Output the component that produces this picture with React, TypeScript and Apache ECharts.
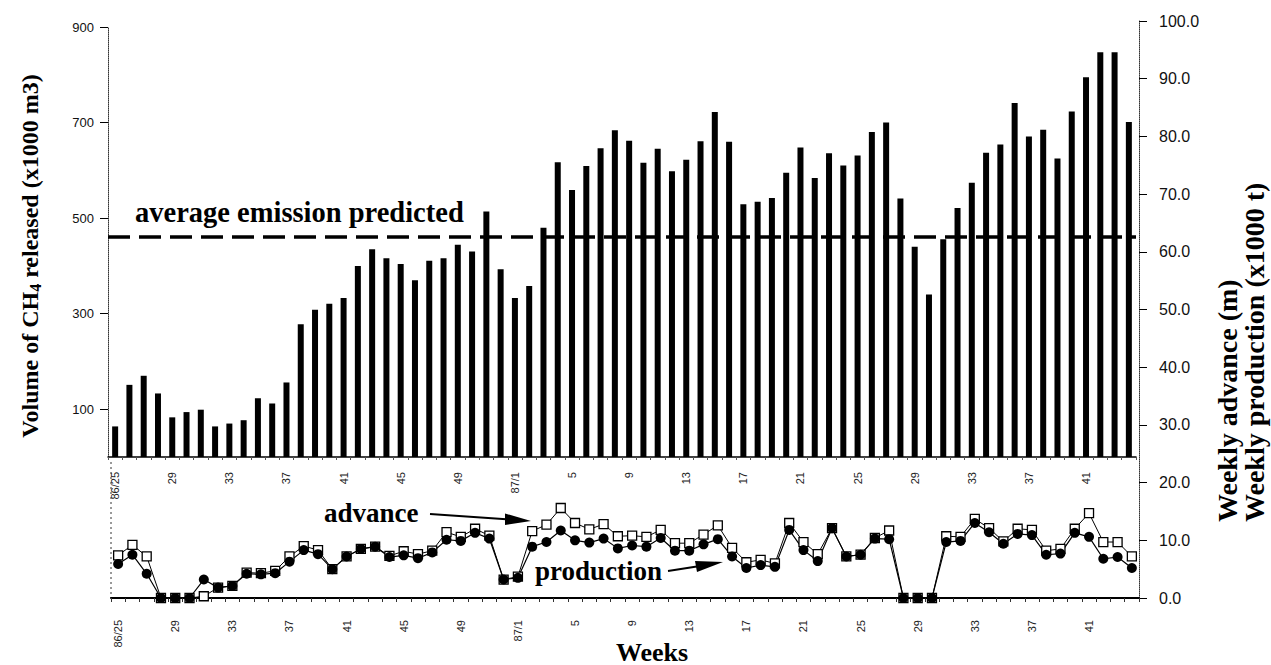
import React, { useEffect, useRef } from "react";
import * as echarts from "echarts";

const weeks = [
  "86/25", "26", "27", "28", "29", "30", "31", "32", "33", "34", "35", "36", "37", "38", "39", "40",
  "41", "42", "43", "44", "45", "46", "47", "48", "49", "50", "51", "52",
  "87/1", "2", "3", "4", "5", "6", "7", "8", "9", "10", "11", "12", "13", "14", "15", "16",
  "17", "18", "19", "20", "21", "22", "23", "24", "25", "26", "27", "28", "29", "30", "31", "32",
  "33", "34", "35", "36", "37", "38", "39", "40", "41", "42", "43", "44",
];

// Volume of CH4 released (x1000 m3)
const methane = [
  64, 151, 170, 133, 83, 94, 99, 64, 70, 77,
  123, 112, 156, 278, 308, 321, 333, 400, 435, 416,
  404, 370, 411, 416, 444, 430, 514, 393, 333, 358,
  480, 617, 559, 609, 646, 684, 662, 616, 645, 598,
  622, 661, 722, 660, 529, 534, 542, 595, 648, 584,
  636, 610, 631, 680, 700, 541, 440, 340, 456, 521,
  574, 637, 654, 741, 671, 685, 625, 723, 795, 847,
  847, 701,
];

// Weekly advance (m)
const advance = [
  7.4, 9.2, 7.2, 0, 0, 0, 0.3, 1.8, 2.1, 4.4,
  4.3, 4.7, 7.2, 9.0, 8.3, 5.0, 7.2, 8.5, 8.9, 7.3,
  8.1, 7.6, 8.2, 11.4, 10.6, 12.0, 10.8, 3.2, 3.7, 11.6,
  12.7, 15.6, 13.0, 11.9, 12.8, 10.7, 10.8, 10.6, 11.8, 9.5,
  9.5, 11.0, 12.6, 8.7, 6.2, 6.6, 6.0, 13.0, 9.7, 7.6,
  12.1, 7.2, 7.5, 10.4, 11.7, 0, 0, 0, 10.7, 10.6,
  13.7, 12.1, 9.8, 12.0, 11.8, 8.2, 8.5, 12.0, 14.7, 9.7,
  9.7, 7.2,
];

// Weekly production (x1000 t)
const production = [
  5.9, 7.5, 4.2, 0, 0, 0, 3.2, 1.8, 2.1, 4.2,
  4.1, 4.3, 6.3, 8.3, 7.6, 5.0, 7.2, 8.5, 8.9, 7.1,
  7.4, 6.9, 7.9, 10.1, 9.9, 11.3, 10.3, 3.2, 3.5, 8.9,
  9.7, 11.7, 10.0, 9.6, 10.3, 8.6, 9.1, 8.9, 10.4, 8.2,
  8.2, 9.3, 10.2, 7.2, 5.2, 5.7, 5.4, 11.8, 8.3, 6.4,
  12.1, 7.2, 7.5, 10.3, 10.2, 0, 0, 0, 9.7, 9.9,
  13.0, 11.4, 9.4, 11.1, 10.9, 7.5, 7.7, 11.3, 10.6, 6.8,
  7.1, 5.2,
];

const averagePredicted = 460;
const leftTickValues = [100, 300, 500, 700, 900];

export default function App() {
  const ref = useRef<HTMLDivElement>(null);

  useEffect(() => {
    if (!ref.current) return;
    const chart = echarts.init(ref.current, null, { renderer: "svg" });
    const serif = "'Liberation Serif', 'Times New Roman', serif";
    const sans = "'Liberation Sans', Arial, sans-serif";

    chart.setOption({
      animation: false,
      backgroundColor: "#ffffff",
      grid: [
        { left: 108, top: 27, width: 1028, height: 430 },
        { left: 111, top: 21, width: 1028, height: 577 },
      ],
      xAxis: [
        {
          type: "category",
          gridIndex: 0,
          data: weeks,
          boundaryGap: true,
          axisLine: { show: true, lineStyle: { color: "#000", width: 1.5 } },
          axisTick: { show: true, interval: 0, length: 3, lineStyle: { color: "#555" } },
          axisLabel: {
            interval: 3,
            rotate: 90,
            margin: 15,
            fontSize: 11,
            color: "#222",
            fontFamily: sans,
          },
          splitLine: { show: false },
        },
        {
          type: "category",
          gridIndex: 1,
          data: weeks,
          boundaryGap: true,
          axisLine: { show: true, lineStyle: { color: "#000", width: 2 } },
          axisTick: { show: true, interval: 0, length: 4, lineStyle: { color: "#333" } },
          axisLabel: {
            interval: 3,
            rotate: 90,
            margin: 22,
            fontSize: 11,
            color: "#222",
            fontFamily: sans,
          },
          splitLine: { show: false },
        },
      ],
      yAxis: [
        {
          type: "value",
          gridIndex: 0,
          position: "left",
          min: 0,
          max: 900,
          splitLine: { show: false },
          axisLine: { show: true, lineStyle: { color: "#333", type: "dotted", width: 1 } },
          axisTick: { show: true, length: 8, customValues: leftTickValues, lineStyle: { color: "#000" } },
          axisLabel: {
            customValues: leftTickValues,
            margin: 14,
            fontSize: 13,
            color: "#111",
            fontFamily: sans,
          },
        },
        {
          type: "value",
          gridIndex: 1,
          position: "right",
          min: 0,
          max: 100,
          interval: 10,
          splitLine: { show: false },
          axisLine: { show: true, lineStyle: { color: "#333", type: "dotted", width: 1 } },
          axisTick: { show: true, length: 8, lineStyle: { color: "#000" } },
          axisLabel: {
            margin: 20,
            fontSize: 16,
            color: "#111",
            fontFamily: sans,
            formatter: (v: number) => v.toFixed(1),
          },
        },
      ],
      series: [
        {
          name: "Volume of CH4 released",
          type: "bar",
          xAxisIndex: 0,
          yAxisIndex: 0,
          data: methane,
          barWidth: 6,
          itemStyle: { color: "#000" },
          markLine: {
            silent: true,
            symbol: "none",
            label: { show: false },
            lineStyle: { color: "#000", width: 3.5, type: [22, 9] },
            data: [{ yAxis: averagePredicted }],
          },
        },
        {
          name: "advance",
          type: "line",
          xAxisIndex: 1,
          yAxisIndex: 1,
          data: advance,
          symbol: "rect",
          symbolSize: 9,
          showSymbol: true,
          showAllSymbol: true,
          lineStyle: { color: "#000", width: 1 },
          itemStyle: { color: "#fff", borderColor: "#000", borderWidth: 1.3 },
        },
        {
          name: "production",
          type: "line",
          xAxisIndex: 1,
          yAxisIndex: 1,
          data: production,
          symbol: "circle",
          symbolSize: 10,
          showSymbol: true,
          showAllSymbol: true,
          lineStyle: { color: "#000", width: 1.2 },
          itemStyle: { color: "#000" },
        },
      ],
      graphic: [
        {
          type: "text",
          x: 30,
          y: 256,
          rotation: Math.PI / 2,
          style: {
            text: "Volume of CH{sub|4} released (x1000 m3)",
            fontFamily: serif,
            fontWeight: "bold",
            fontSize: 24,
            fill: "#000",
            textAlign: "center",
            textVerticalAlign: "middle",
            rich: {
              sub: { fontFamily: serif, fontWeight: "bold", fontSize: 16, padding: [10, 0, 0, 0], fill: "#000" },
            },
          },
        },
        {
          type: "text",
          x: 1227,
          y: 522,
          rotation: Math.PI / 2,
          style: {
            text: "Weekly advance (m)",
            fontFamily: serif,
            fontWeight: "bold",
            fontSize: 28,
            fill: "#000",
            textAlign: "left",
            textVerticalAlign: "middle",
          },
        },
        {
          type: "text",
          x: 1254,
          y: 522,
          rotation: Math.PI / 2,
          style: {
            text: "Weekly production (x1000 t)",
            fontFamily: serif,
            fontWeight: "bold",
            fontSize: 28,
            fill: "#000",
            textAlign: "left",
            textVerticalAlign: "middle",
          },
        },
        {
          type: "text",
          x: 652,
          y: 652,
          style: {
            text: "Weeks",
            fontFamily: serif,
            fontWeight: "bold",
            fontSize: 26,
            fill: "#000",
            textAlign: "center",
            textVerticalAlign: "middle",
          },
        },
        {
          type: "text",
          x: 135,
          y: 198,
          style: {
            text: "average emission predicted",
            fontFamily: serif,
            fontWeight: "bold",
            fontSize: 28.5,
            fill: "#000",
            textAlign: "left",
            textVerticalAlign: "top",
          },
        },
        {
          type: "text",
          x: 324,
          y: 499,
          style: {
            text: "advance",
            fontFamily: serif,
            fontWeight: "bold",
            fontSize: 27,
            fill: "#000",
            textAlign: "left",
            textVerticalAlign: "top",
          },
        },
        {
          type: "text",
          x: 535,
          y: 557,
          style: {
            text: "production",
            fontFamily: serif,
            fontWeight: "bold",
            fontSize: 27,
            fill: "#000",
            textAlign: "left",
            textVerticalAlign: "top",
          },
        },
        {
          type: "line",
          shape: { x1: 430, y1: 514, x2: 510, y2: 519.5 },
          style: { stroke: "#000", lineWidth: 2 },
        },
        {
          type: "polygon",
          shape: { points: [[531, 521], [505, 513.5], [505, 525]] },
          style: { fill: "#000" },
        },
        {
          type: "line",
          shape: { x1: 668, y1: 571, x2: 700, y2: 566 },
          style: { stroke: "#000", lineWidth: 2 },
        },
        {
          type: "polygon",
          shape: { points: [[723, 562], [695, 561], [697, 572]] },
          style: { fill: "#000" },
        },
        {
          type: "line",
          shape: { x1: 111, y1: 462, x2: 111, y2: 598 },
          style: { stroke: "#333", lineWidth: 1, lineDash: [2, 3] },
        },
      ],
    });

    return () => {
      chart.dispose();
    };
  }, []);

  return (
    <div
      ref={ref}
      style={{ position: "fixed", left: 0, top: 0, width: 1271, height: 665, background: "#fff" }}
    />
  );
}
